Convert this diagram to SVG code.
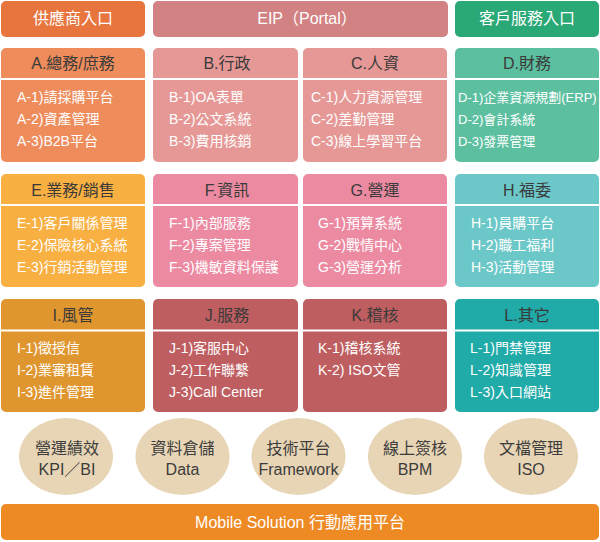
<svg xmlns="http://www.w3.org/2000/svg" width="600" height="542" viewBox="0 0 600 542">
<style>
text{font-family:"Liberation Sans","Noto Sans CJK TC",sans-serif}
.top{fill:#fff;font-size:16px;text-anchor:middle}
.hdr{fill:#3a3a3a;font-size:16px;text-anchor:middle}
.it{fill:#fff;font-size:14px}
.sm{font-size:13px}
.div{stroke:#fff;stroke-width:2}
.ct{fill:#3c3c3c;font-size:16px;text-anchor:middle}
.bar{fill:#fff;font-size:16px;text-anchor:middle}
</style>
<rect width="600" height="542" fill="#fff"/>

<g id="supplier">
<rect x="1" y="1" width="144" height="36" rx="5" fill="#e8743e"/>
<text class="top" x="73" y="24">供應商入口</text>
</g>
<g id="eip">
<rect x="153" y="1" width="295" height="36" rx="5" fill="#d28282"/>
<text class="top" x="307" y="24">EIP（Portal）</text>
</g>
<g id="customer">
<rect x="455" y="1" width="144" height="36" rx="5" fill="#2aa876"/>
<text class="top" x="527" y="24">客戶服務入口</text>
</g>

<g id="A">
<rect x="1" y="48" width="144" height="114" rx="5" fill="#ee8c5c"/>
<line class="div" x1="1" y1="79" x2="145" y2="79"/>
<text class="hdr" x="73" y="69">A.總務/庶務</text>
<text class="it" x="17" y="102">A-1)請採購平台</text>
<text class="it" x="17" y="124">A-2)資產管理</text>
<text class="it" x="17" y="146">A-3)B2B平台</text>
</g>
<g id="B">
<rect x="153" y="48" width="145" height="114" rx="5" fill="#e69896"/>
<line class="div" x1="153" y1="79" x2="298" y2="79"/>
<text class="hdr" x="227" y="69">B.行政</text>
<text class="it" x="169" y="102">B-1)OA表單</text>
<text class="it" x="169" y="124">B-2)公文系統</text>
<text class="it" x="169" y="146">B-3)費用核銷</text>
</g>
<g id="C">
<rect x="303" y="48" width="144" height="114" rx="5" fill="#e69896"/>
<line class="div" x1="303" y1="79" x2="447" y2="79"/>
<text class="hdr" x="375" y="69">C.人資</text>
<text class="it" x="311" y="102">C-1)人力資源管理</text>
<text class="it" x="311" y="124">C-2)差勤管理</text>
<text class="it" x="311" y="146">C-3)線上學習平台</text>
</g>
<g id="D">
<rect x="455" y="48" width="144" height="114" rx="5" fill="#5cc0a0"/>
<line class="div" x1="455" y1="79" x2="599" y2="79"/>
<text class="hdr" x="527" y="69">D.財務</text>
<text class="it sm" x="458" y="102">D-1)企業資源規劃(ERP)</text>
<text class="it sm" x="458" y="124">D-2)會計系統</text>
<text class="it sm" x="458" y="146">D-3)發票管理</text>
</g>

<g id="E">
<rect x="1" y="174" width="144" height="113" rx="5" fill="#f9b042"/>
<line class="div" x1="1" y1="205" x2="145" y2="205"/>
<text class="hdr" x="73" y="196">E.業務/銷售</text>
<text class="it" x="17" y="228">E-1)客戶關係管理</text>
<text class="it" x="17" y="250">E-2)保險核心系統</text>
<text class="it" x="17" y="272">E-3)行銷活動管理</text>
</g>
<g id="F">
<rect x="153" y="174" width="145" height="113" rx="5" fill="#ec8aa2"/>
<line class="div" x1="153" y1="205" x2="298" y2="205"/>
<text class="hdr" x="227" y="196">F.資訊</text>
<text class="it" x="169" y="228">F-1)內部服務</text>
<text class="it" x="169" y="250">F-2)專案管理</text>
<text class="it" x="169" y="272">F-3)機敏資料保護</text>
</g>
<g id="G">
<rect x="303" y="174" width="144" height="113" rx="5" fill="#ec8aa2"/>
<line class="div" x1="303" y1="205" x2="447" y2="205"/>
<text class="hdr" x="375" y="196">G.營運</text>
<text class="it" x="318" y="228">G-1)預算系統</text>
<text class="it" x="318" y="250">G-2)戰情中心</text>
<text class="it" x="318" y="272">G-3)營運分析</text>
</g>
<g id="H">
<rect x="455" y="174" width="144" height="113" rx="5" fill="#6cc8c8"/>
<line class="div" x1="455" y1="205" x2="599" y2="205"/>
<text class="hdr" x="527" y="196">H.福委</text>
<text class="it" x="471" y="228">H-1)員購平台</text>
<text class="it" x="471" y="250">H-2)職工福利</text>
<text class="it" x="471" y="272">H-3)活動管理</text>
</g>

<g id="I">
<rect x="1" y="299" width="144" height="113" rx="5" fill="#e0962e"/>
<line class="div" x1="1" y1="330.5" x2="145" y2="330.5"/>
<text class="hdr" x="73" y="321">I.風管</text>
<text class="it" x="17" y="353">I-1)徵授信</text>
<text class="it" x="17" y="375">I-2)業審租賃</text>
<text class="it" x="17" y="397">I-3)進件管理</text>
</g>
<g id="J">
<rect x="153" y="299" width="145" height="113" rx="5" fill="#be5e60"/>
<line class="div" x1="153" y1="330.5" x2="298" y2="330.5"/>
<text class="hdr" x="227" y="321">J.服務</text>
<text class="it" x="169" y="353">J-1)客服中心</text>
<text class="it" x="169" y="375">J-2)工作聯繫</text>
<text class="it" x="169" y="397">J-3)Call Center</text>
</g>
<g id="K">
<rect x="303" y="299" width="144" height="113" rx="5" fill="#be5e60"/>
<line class="div" x1="303" y1="330.5" x2="447" y2="330.5"/>
<text class="hdr" x="375" y="321">K.稽核</text>
<text class="it" x="318" y="353">K-1)稽核系統</text>
<text class="it" x="318" y="375">K-2) ISO文管</text>
</g>
<g id="L">
<rect x="455" y="299" width="144" height="113" rx="5" fill="#20aaa8"/>
<line class="div" x1="455" y1="330.5" x2="599" y2="330.5"/>
<text class="hdr" x="527" y="321">L.其它</text>
<text class="it" x="470" y="353">L-1)門禁管理</text>
<text class="it" x="470" y="375">L-2)知識管理</text>
<text class="it" x="470" y="397">L-3)入口網站</text>
</g>

<g id="kpi">
<ellipse cx="66" cy="456.5" rx="47" ry="38.5" fill="#e8d5b5"/>
<text class="ct" x="67" y="454">營運績效</text>
<text class="ct" x="67" y="475">KPI／BI</text>
</g>
<g id="data">
<ellipse cx="182.5" cy="456.5" rx="47" ry="38.5" fill="#e8d5b5"/>
<text class="ct" x="182.5" y="454">資料倉儲</text>
<text class="ct" x="182.5" y="475">Data</text>
</g>
<g id="framework">
<ellipse cx="298.5" cy="456.5" rx="47" ry="38.5" fill="#e8d5b5"/>
<text class="ct" x="298.5" y="454">技術平台</text>
<text class="ct" x="298.5" y="475">Framework</text>
</g>
<g id="bpm">
<ellipse cx="415" cy="456.5" rx="47" ry="38.5" fill="#e8d5b5"/>
<text class="ct" x="415" y="454">線上簽核</text>
<text class="ct" x="415" y="475">BPM</text>
</g>
<g id="iso">
<ellipse cx="531" cy="456.5" rx="47" ry="38.5" fill="#e8d5b5"/>
<text class="ct" x="531" y="454">文檔管理</text>
<text class="ct" x="531" y="475">ISO</text>
</g>

<g id="mobile">
<rect x="1" y="504" width="598" height="36" rx="5" fill="#ee8a24"/>
<text class="bar" x="300" y="528">Mobile Solution 行動應用平台</text>
</g>
</svg>
